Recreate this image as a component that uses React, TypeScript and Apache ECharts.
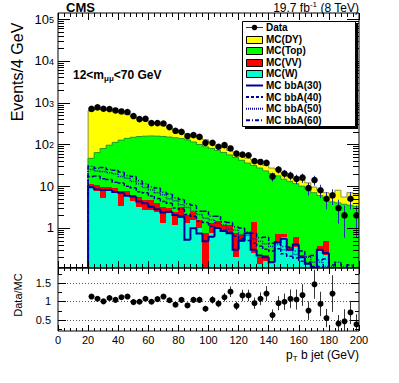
import React, { useEffect, useRef } from 'react';
import * as echarts from 'echarts';

// ---------------- data (bins of 4 GeV, lower edges) ----------------
const BIN = 4;
const binLow = [0, 4, 8, 12, 16, 20, 24, 28, 32, 36, 40, 44, 48, 52, 56, 60, 64, 68, 72, 76, 80, 84, 88, 92, 96, 100, 104, 108, 112, 116, 120, 124, 128, 132, 136, 140, 144, 148, 152, 156, 160, 164, 168, 172, 176, 180, 184, 188, 192, 196];

const mcDY = [0, 0, 0, 0, 0, 593, 626, 610, 564, 508, 433, 380, 322, 256, 217, 170, 147, 125, 102, 83, 57, 50, 45, 46, 42, 32, 24, 22, 16, 17, 10, 11, 11, 9, 8, 7, 7.5, 6, 4, 3.5, 4, 3.5, 2.5, 2, 1.8, 2.3, 4, 1.8, 3.5, 3.2];
const mcTop = [0, 0, 0, 0, 0, 35, 53, 70, 86, 103, 119, 132, 142, 149, 153, 155, 154, 152, 147, 142, 135, 126, 112, 98, 87, 79, 70, 63, 55, 48, 41, 35, 30, 27, 23, 20, 17, 14, 12.7, 10.9, 9.8, 8.4, 7, 5.6, 4.7, 4.2, 4.0, 3.7, 3.5, 3.3];
const mcVV = [0, 0, 0, 0, 0, 2.6, 3.0, 4.7, 2.0, 1.2, 4.4, 1.6, 1.9, 2.2, 2.0, 2.0, 1.44, 1.9, 0.63, 1.28, 1.5, 0.76, 0.91, 0.57, 0.74, 0.56, 0.42, 0.3, 0.46, 0.54, 0.23, 0, 1.15, 0.06, 0.06, 0, 0.25, 0.1, 0.05, 0.25, 0.02, 0, 0, 0.1, 0.28, 0, 0, 0, 0, 0];
const mcW = [0, 0, 0, 0, 0, 8.9, 7.8, 5.1, 7.8, 7.8, 3.4, 6.2, 4.3, 3.2, 2.7, 2.7, 2.46, 1.29, 2.33, 1.18, 1.7, 1.29, 1.55, 0.98, 0, 0.74, 1.08, 0.9, 0.74, 0.2, 0.45, 0.74, 0.25, 0.14, 0.16, 0.15, 0.45, 0.6, 0.3, 0.35, 0.2, 0.13, 0, 0.28, 0.22, 0, 0, 0, 0, 0];

const bbA30 = [0, 0, 0, 0, 0, 9.4, 8.5, 8.1, 8.1, 7.3, 7.0, 5.9, 5.7, 4.3, 3.9, 3.2, 2.8, 2.33, 2.46, 2.05, 1.87, 0.52, 0.98, 0.74, 0.48, 0.62, 1.0, 0.85, 0.75, 0.3, 0.5, 0.75, 0.3, 0.22, 0.2, 0.15, 0.45, 0.55, 0.3, 0.4, 0.2, 0.14, 0, 0.3, 0.25, 0, 0, 0, 0, 0];
const bbA40 = [0, 0, 0, 0, 0, 17, 17.5, 15, 14.5, 12.5, 12, 10, 9.2, 7.4, 7, 5.8, 5.1, 4.3, 3.9, 3.0, 2.8, 2.1, 1.9, 1.45, 1.35, 1.1, 1.0, 0.88, 0.8, 0.64, 0.56, 0.5, 0.43, 0.37, 0.31, 0.28, 0.32, 0.24, 0.21, 0.19, 0.16, 0.15, 0.12, 0.12, 0.1, 0.1, 0.09, 0.08, 0.08, 0.07];
const bbA50 = [0, 0, 0, 0, 0, 25, 23, 22.5, 21, 19.5, 17, 15.5, 13, 11.5, 9.3, 8.2, 7, 6.2, 5, 4.5, 3.6, 3.1, 2.5, 2.1, 1.7, 1.55, 1.3, 1.2, 0.95, 0.88, 0.7, 0.66, 0.55, 0.48, 0.42, 0.36, 0.4, 0.3, 0.29, 0.23, 0.21, 0.2, 0.15, 0.15, 0.12, 0.12, 0.1, 0.1, 0.09, 0.09];
const bbA60 = [0, 0, 0, 0, 0, 30, 27, 28, 25, 24, 22, 18, 17, 13.5, 11.5, 9.5, 9, 7.2, 6.5, 5.3, 4.8, 3.8, 3.5, 2.5, 2.5, 1.9, 1.9, 1.4, 1.35, 1.05, 1.0, 0.8, 0.75, 0.58, 0.6, 0.43, 0.46, 0.36, 0.35, 0.28, 0.28, 0.21, 0.22, 0.17, 0.18, 0.13, 0.15, 0.12, 0.13, 0.1];

const dataCounts = [0, 0, 0, 0, 0, 708, 767, 714, 703, 650, 615, 596, 478, 405, 411, 324, 324, 317, 260, 212, 200, 158, 167, 152, 109, 109, 88, 96, 80, 60, 57, 55, 40, 38, 36, 17, 25, 20, 18, 15, 16, 9, 14, 8, 5, 6, 3, 2, 5, 2];
const ratioDataMC = [null, null, null, null, null, 1.13, 1.07, 1.0, 1.09, 1.04, 1.11, 1.13, 0.98, 0.99, 1.07, 0.99, 1.06, 1.13, 1.03, 0.91, 1.04, 0.89, 1.04, 1.04, 0.80, 1.04, 0.94, 1.11, 1.26, 0.88, 1.16, 1.16, 0.95, 1.07, 1.21, 0.63, 0.95, 0.99, 1.07, 1.05, 1.17, 0.75, 1.46, 0.93, 0.55, 1.21, 0.40, 0.46, 0.70, 0.38];

const xTickLabels = ['0', '20', '40', '60', '80', '100', '120', '140', '160', '180', '200'];
const ratioLabels = [0.5, 1, 1.5];
const legendNames = ['Data', 'MC(DY)', 'MC(Top)', 'MC(VV)', 'MC(W)', 'MC bbA(30)', 'MC bbA(40)', 'MC bbA(50)', 'MC bbA(60)'];

// ---------------- style ----------------
const FONT = '"Liberation Sans", Arial, Helvetica, sans-serif';
const NAVY = '#000099';
const C_DY = '#ffff00';
const C_TOP = '#00ff00';
const C_VV = '#ff0000';
const C_W = '#00ffcc';
const YMIN = 0.11;
const YMAX = 1.4e5;
const RMIN = 0.2;
const RMAX = 1.9;

function clampY(v: number) {
  return Math.min(Math.max(v, YMIN), YMAX);
}

function fillSeries(name: string, cum: number[], color: string, z: number) {
  return {
    type: 'custom',
    name,
    xAxisIndex: 0,
    yAxisIndex: 0,
    z,
    clip: true,
    silent: true,
    encode: { x: [0, 1], y: 2 },
    data: binLow.map((x0, i) => [x0, x0 + BIN, cum[i]]),
    renderItem: (params: any, api: any) => {
      const hi = api.value(2);
      if (!(hi > YMIN)) return null;
      const a = api.coord([api.value(0), Math.min(hi, YMAX)]);
      const b = api.coord([api.value(1), YMIN]);
      const x = Math.round(a[0]);
      const y = Math.round(a[1]);
      return {
        type: 'rect',
        shape: { x, y, width: Math.round(b[0]) - x, height: Math.round(b[1]) - y },
        style: { fill: color },
      };
    },
  };
}

function stepSeries(name: string, vals: number[], color: string, width: number, dash: any, z: number) {
  return {
    type: 'custom',
    name,
    xAxisIndex: 0,
    yAxisIndex: 0,
    z,
    clip: true,
    silent: true,
    encode: { x: [0, 1], y: [2, 3] },
    data: binLow.map((x0, i) => [x0, x0 + BIN, i === 0 ? 0 : vals[i - 1], vals[i]]),
    renderItem: (params: any, api: any) => {
      const x0 = api.value(0);
      const x1 = api.value(1);
      const p0 = api.coord([x0, clampY(api.value(2))]);
      const p1 = api.coord([x0, clampY(api.value(3))]);
      const p2 = api.coord([x1, clampY(api.value(3))]);
      return {
        type: 'polyline',
        shape: { points: [p0, p1, p2] },
        style: { stroke: color, lineWidth: width, lineDash: dash, fill: null },
      };
    },
  };
}

function buildOption() {
  const cumW = mcW.slice();
  const cumVV = mcW.map((w, i) => w + mcVV[i]);
  const cumTop = cumVV.map((v, i) => v + mcTop[i]);
  const cumAll = cumTop.map((v, i) => v + mcDY[i]);

  const mainYTicks: number[][] = [];
  for (let e = -1; e <= 5; e++) {
    for (let m = 1; m <= 9; m++) {
      const v = m * Math.pow(10, e);
      if (v >= YMIN && v <= YMAX) mainYTicks.push([0, v, m === 1 ? 12 : 6]);
    }
  }
  const ratioYTicks = [
    [0, 0.25, 4], [0, 0.5, 8], [0, 0.75, 4], [0, 1, 8], [0, 1.25, 4], [0, 1.5, 8], [0, 1.75, 4],
  ];

  const yTickRender = (params: any, api: any) => {
    const cs = params.coordSys;
    const p = api.coord([0, api.value(1)]);
    const y = Math.round(p[1]) + 0.5;
    const len = api.value(2);
    return {
      type: 'group',
      children: [
        { type: 'line', shape: { x1: cs.x, y1: y, x2: cs.x + len, y2: y }, style: { stroke: '#000', lineWidth: 1 } },
        { type: 'line', shape: { x1: cs.x + cs.width - len, y1: y, x2: cs.x + cs.width, y2: y }, style: { stroke: '#000', lineWidth: 1 } },
      ],
    };
  };

  const xAxisBase = (gridIndex: number, position: string, major: number, minor: number, labels: boolean) => ({
    type: 'value',
    gridIndex,
    position,
    min: 0,
    max: 200,
    interval: 20,
    z: 30,
    axisLine: { show: false },
    axisTick: { show: true, inside: true, length: major, lineStyle: { color: '#000', width: 1 } },
    minorTick: { show: true, splitNumber: 5, length: minor, lineStyle: { color: '#000', width: 1 } },
    splitLine: { show: false },
    axisLabel: labels
      ? {
          show: true,
          margin: 3,
          color: '#000',
          fontSize: 11,
          fontFamily: FONT,
          formatter: (v: number) => xTickLabels[Math.round(v / 20)] ?? '',
        }
      : { show: false },
  });

  const sqrt = Math.sqrt;

  return {
    animation: false,
    backgroundColor: '#ffffff',
    grid: [
      { left: 58, top: 13, width: 301, height: 255, show: true, borderColor: '#000', borderWidth: 1, backgroundColor: 'transparent', z: 30 },
      { left: 58, top: 268, width: 301, height: 63, show: true, borderColor: '#000', borderWidth: 1, backgroundColor: 'transparent', z: 30 },
    ],
    xAxis: [
      xAxisBase(0, 'bottom', 7, 4, false),
      xAxisBase(0, 'top', 7, 4, false),
      xAxisBase(1, 'bottom', 6, 3, true),
      xAxisBase(1, 'top', 6, 3, false),
    ],
    yAxis: [
      {
        type: 'log',
        logBase: 10,
        gridIndex: 0,
        min: YMIN,
        max: YMAX,
        z: 30,
        axisLine: { show: false },
        axisTick: { show: false },
        minorTick: { show: false },
        splitLine: { show: false },
        minorSplitLine: { show: false },
        axisLabel: {
          show: true,
          margin: 4,
          color: '#000',
          showMinLabel: true,
          showMaxLabel: true,
          formatter: (v: number) => {
            const l = Math.log10(v);
            const e = Math.round(l);
            if (Math.abs(l - e) > 1e-6) return '';
            if (e === 0) return '{b|1}';
            if (e === 1) return '{b|10}';
            return `{bb|10}{s|${e}}`;
          },
          rich: {
            b: { fontSize: 13, fontFamily: FONT, color: '#000', lineHeight: 15 },
            bb: { fontSize: 13, fontFamily: FONT, color: '#000', lineHeight: 13, padding: [5, 0, 0, 0], verticalAlign: 'bottom' },
            s: { fontSize: 9, fontFamily: FONT, color: '#000', lineHeight: 10, padding: [3, 0, 0, 0], verticalAlign: 'top' },
          },
        },
      },
      {
        type: 'value',
        gridIndex: 1,
        min: RMIN,
        max: RMAX,
        z: 30,
        axisLine: { show: false },
        axisTick: { show: false },
        splitLine: { show: false },
        axisLabel: {
          show: true,
          customValues: ratioLabels,
          margin: 7,
          color: '#000',
          fontSize: 11,
          fontFamily: FONT,
          formatter: (v: number) => String(v),
        },
      },
    ],
    series: [
      fillSeries('MC(DY)', cumAll, C_DY, 2),
      stepSeries('MC(DY) outline', cumAll, '#8f8f3a', 1, null, 3),
      fillSeries('MC(Top)', cumTop, C_TOP, 4),
      stepSeries('MC(Top) outline', cumTop, '#2a9a2a', 1, null, 5),
      fillSeries('MC(VV)', cumVV, C_VV, 6),
      fillSeries('MC(W)', cumW, C_W, 7),
      stepSeries('MC bbA(30)', bbA30, NAVY, 2, null, 8),
      stepSeries('MC bbA(40)', bbA40, NAVY, 1.5, [3, 2], 8),
      stepSeries('MC bbA(50)', bbA50, '#1a1aa6', 1.5, [1, 1], 8),
      stepSeries('MC bbA(60)', bbA60, NAVY, 1.5, [4, 2, 1, 2], 8),
      {
        type: 'custom',
        name: 'Data',
        xAxisIndex: 0,
        yAxisIndex: 0,
        z: 9,
        clip: true,
        silent: true,
        encode: { x: 0, y: 1 },
        data: binLow
          .map((x0, i) => [x0 + BIN / 2, dataCounts[i], sqrt(dataCounts[i])])
          .filter((d) => d[1] > 0),
        renderItem: (params: any, api: any) => {
          const x = api.value(0);
          const v = api.value(1);
          const e = api.value(2);
          const c = api.coord([x, v]);
          const top = api.coord([x, clampY(v + e)]);
          const bot = api.coord([x, clampY(v - e)]);
          const cx = Math.round(c[0]) + 0.5;
          return {
            type: 'group',
            children: [
              { type: 'line', shape: { x1: cx, y1: top[1], x2: cx, y2: bot[1] }, style: { stroke: '#2233aa', lineWidth: 1 } },
              { type: 'circle', shape: { cx, cy: c[1], r: 3.3 }, style: { fill: '#000' } },
            ],
          };
        },
      },
      {
        type: 'custom',
        name: 'y ticks',
        xAxisIndex: 0,
        yAxisIndex: 0,
        z: 20,
        silent: true,
        encode: { x: 0, y: 1 },
        data: mainYTicks,
        renderItem: yTickRender,
      },
      {
        type: 'custom',
        name: 'ratio grid',
        xAxisIndex: 2,
        yAxisIndex: 1,
        z: 3,
        silent: true,
        encode: { x: 0, y: 1 },
        data: ratioLabels.map((v) => [0, v]),
        renderItem: (params: any, api: any) => {
          const a = api.coord([0, api.value(1)]);
          const b = api.coord([200, api.value(1)]);
          const y = Math.round(a[1]) + 0.5;
          return { type: 'line', shape: { x1: a[0], y1: y, x2: b[0], y2: y }, style: { stroke: '#555', lineWidth: 1, lineDash: [1, 2] } };
        },
      },
      {
        type: 'custom',
        name: 'ratio y ticks',
        xAxisIndex: 2,
        yAxisIndex: 1,
        z: 20,
        silent: true,
        encode: { x: 0, y: 1 },
        data: ratioYTicks,
        renderItem: yTickRender,
      },
      {
        type: 'custom',
        name: 'Data/MC',
        xAxisIndex: 2,
        yAxisIndex: 1,
        z: 9,
        clip: true,
        silent: true,
        encode: { x: 0, y: 1 },
        data: binLow
          .map((x0, i) => [x0 + BIN / 2, ratioDataMC[i], ratioDataMC[i] != null ? (ratioDataMC[i] as number) / sqrt(dataCounts[i]) : 0])
          .filter((d) => d[1] != null),
        renderItem: (params: any, api: any) => {
          const x = api.value(0);
          const r = api.value(1);
          const e = api.value(2);
          const c = api.coord([x, r]);
          const top = api.coord([x, Math.min(r + e, RMAX)]);
          const bot = api.coord([x, Math.max(r - e, RMIN)]);
          const cx = Math.round(c[0]) + 0.5;
          return {
            type: 'group',
            children: [
              { type: 'line', shape: { x1: cx, y1: top[1], x2: cx, y2: bot[1] }, style: { stroke: '#333', lineWidth: 1 } },
              { type: 'circle', shape: { cx, cy: c[1], r: 3 }, style: { fill: '#000' } },
            ],
          };
        },
      },
    ],
    graphic: buildGraphics(),
  };
}

function buildGraphics() {
  const els: any[] = [];
  const z = 100;
  // titles
  els.push({ type: 'text', x: 66, y: 7.5, z, style: { text: 'CMS', font: `bold 13px ${FONT}`, fill: '#000', textAlign: 'left', textVerticalAlign: 'middle', align: 'left', verticalAlign: 'middle' } });
  els.push({
    type: 'text', x: 359, y: 7.5, z,
    style: {
      text: '{a|19.7 fb}{s|-1}{a| (8 TeV)}', textAlign: 'right', textVerticalAlign: 'middle', align: 'right', verticalAlign: 'middle',
      rich: {
        a: { fontSize: 12, fontFamily: FONT, fill: '#000', color: '#000', lineHeight: 14 },
        s: { fontSize: 8, fontFamily: FONT, fill: '#000', color: '#000', lineHeight: 9, verticalAlign: 'top' },
      },
    },
  });
  els.push({
    type: 'text', x: 73, y: 75, z,
    style: {
      text: '{a|12<m}{s|μμ}{a|<70 GeV}', textAlign: 'left', textVerticalAlign: 'middle', align: 'left', verticalAlign: 'middle',
      rich: {
        a: { fontSize: 12, fontFamily: FONT, fontWeight: 'bold', fill: '#000', color: '#000', lineHeight: 15 },
        s: { fontSize: 8, fontFamily: FONT, fontWeight: 'bold', fill: '#000', color: '#000', lineHeight: 9, verticalAlign: 'bottom' },
      },
    },
  });
  els.push({ type: 'text', x: 17.5, y: 72, rotation: Math.PI / 2, z, style: { text: 'Events/4 GeV', font: `16px ${FONT}`, fill: '#000', textAlign: 'center', textVerticalAlign: 'middle', align: 'center', verticalAlign: 'middle' } });
  els.push({ type: 'text', x: 18, y: 295, rotation: Math.PI / 2, z, style: { text: 'Data/MC', font: `11px ${FONT}`, fill: '#000', textAlign: 'center', textVerticalAlign: 'middle', align: 'center', verticalAlign: 'middle' } });
  els.push({
    type: 'text', x: 359, y: 355, z,
    style: {
      text: '{a|p}{s|T}{a| b jet (GeV)}', textAlign: 'right', textVerticalAlign: 'middle', align: 'right', verticalAlign: 'middle',
      rich: {
        a: { fontSize: 12, fontFamily: FONT, fill: '#000', color: '#000', lineHeight: 15 },
        s: { fontSize: 8, fontFamily: FONT, fill: '#000', color: '#000', lineHeight: 9, verticalAlign: 'bottom' },
      },
    },
  });

  // legend
  const bx = 242.5, by = 21.5, bw = 113, bh = 105;
  els.push({ type: 'rect', z, shape: { x: bx + 2.5, y: by + 2.5, width: bw, height: bh }, style: { fill: '#000' } });
  els.push({ type: 'rect', z: z + 1, shape: { x: bx, y: by, width: bw, height: bh }, style: { fill: '#fff', stroke: '#000', lineWidth: 1 } });
  const fills = [null, C_DY, C_TOP, C_VV, C_W];
  const dashes: any[] = [null, [3, 2], [1, 1], [4, 2, 1, 2]];
  legendNames.forEach((name, i) => {
    const y = 27.5 + 11.6 * i;
    if (i === 0) {
      els.push({ type: 'line', z: z + 2, shape: { x1: 246, y1: y, x2: 263, y2: y }, style: { stroke: '#2233aa', lineWidth: 1 } });
      els.push({ type: 'circle', z: z + 3, shape: { cx: 254.5, cy: y, r: 2.8 }, style: { fill: '#000' } });
    } else if (i <= 4) {
      els.push({ type: 'rect', z: z + 2, shape: { x: 246.5, y: Math.round(y - 3.5) + 0.5, width: 16, height: 7 }, style: { fill: fills[i], stroke: '#000', lineWidth: 1 } });
    } else {
      els.push({ type: 'line', z: z + 2, shape: { x1: 246, y1: y, x2: 263, y2: y }, style: { stroke: NAVY, lineWidth: 2, lineDash: dashes[i - 5] } });
    }
    els.push({ type: 'text', z: z + 2, x: 266, y, style: { text: name, font: `bold 10px ${FONT}`, fill: '#000', textAlign: 'left', textVerticalAlign: 'middle', align: 'left', verticalAlign: 'middle' } });
  });
  return els;
}

export default function App() {
  const ref = useRef<HTMLDivElement>(null);
  useEffect(() => {
    const chart = echarts.init(ref.current as HTMLDivElement, null, { renderer: 'svg' });
    chart.setOption(buildOption() as any);
    return () => chart.dispose();
  }, []);
  return (
    <div
      ref={ref}
      style={{ position: 'fixed', left: 0, top: 0, width: 399, height: 383, background: '#fff' }}
    />
  );
}
